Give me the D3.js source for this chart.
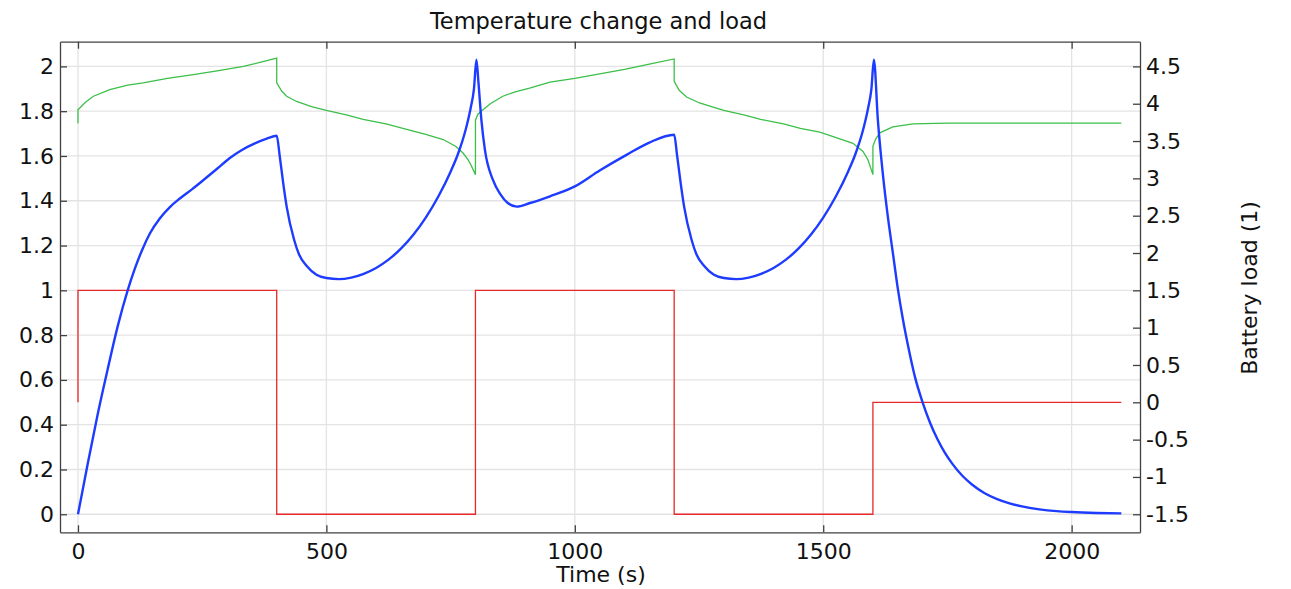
<!DOCTYPE html>
<html>
<head>
<meta charset="utf-8">
<script src="https://cdn.jsdelivr.net/npm/d3@7"></script>
<style>
  html, body { margin: 0; padding: 0; background: #fff; }
  svg { display: block; font-family: "DejaVu Sans", sans-serif; }
</style>
</head>
<body>
<svg id="chart" width="1291" height="589"></svg>
<script>
// ---- Data ----
const chartTitle = "Temperature change and load";
const xLabel = "Time (s)";
const yRightLabel = "Battery load (1)";

const xTicks = [0, 500, 1000, 1500, 2000];
const yLeftTicks = [0, 0.2, 0.4, 0.6, 0.8, 1, 1.2, 1.4, 1.6, 1.8, 2];
const yRightTicks = [-1.5, -1, -0.5, 0, 0.5, 1, 1.5, 2, 2.5, 3, 3.5, 4, 4.5];

// Temperature change (left axis)
const tempTime = [0, 20, 40, 60, 80, 100, 115, 130, 145, 165, 185, 205, 230, 255, 280, 305, 330, 355, 380, 400,
  406, 413, 420, 435, 445, 460, 480, 500, 525, 550, 575, 600, 625, 650, 675, 700, 725, 750, 765, 780, 790, 797, 802,
  806, 812, 819, 835, 850, 865, 883, 910, 950, 1000, 1050, 1104, 1150, 1200,
  1206, 1213, 1220, 1235, 1245, 1260, 1280, 1300, 1325, 1350, 1375, 1400, 1425, 1450, 1475, 1500, 1525, 1550, 1565, 1580, 1590, 1597, 1602,
  1610, 1620, 1630, 1640, 1650, 1660, 1670, 1685, 1700, 1715, 1730, 1745, 1760, 1780, 1800, 1825, 1850, 1875, 1900, 1935, 1970, 2000, 2050, 2100];
const tempValue = [0, 0.23, 0.45, 0.65, 0.84, 1.0, 1.10, 1.185, 1.255, 1.322, 1.372, 1.41, 1.452, 1.497, 1.543, 1.59, 1.627, 1.655, 1.677, 1.69,
  1.60, 1.48, 1.374, 1.226, 1.16, 1.11, 1.07, 1.055, 1.05, 1.057, 1.074, 1.10, 1.137, 1.186, 1.248, 1.325, 1.418, 1.53, 1.61, 1.715, 1.81, 1.90, 2.03,
  1.93, 1.76, 1.628, 1.494, 1.43, 1.39, 1.374, 1.39, 1.42, 1.464, 1.535, 1.605, 1.66, 1.695,
  1.60, 1.48, 1.374, 1.226, 1.16, 1.11, 1.07, 1.055, 1.05, 1.057, 1.074, 1.10, 1.137, 1.186, 1.248, 1.325, 1.418, 1.53, 1.61, 1.715, 1.81, 1.90, 2.03,
  1.76, 1.52, 1.33, 1.17, 1.01, 0.875, 0.76, 0.61, 0.50, 0.409, 0.335, 0.274, 0.225, 0.172, 0.132, 0.094, 0.068, 0.049, 0.035, 0.022, 0.014, 0.010, 0.006, 0.004];

// Green series (right axis)
const greenTime = [0, 0, 15, 31, 64, 100, 131, 180, 232, 280, 333, 370, 400,
  400, 410, 420, 440, 470, 500, 540, 574, 620, 654, 700, 735, 760, 775, 785, 791, 800,
  800, 805, 815, 830, 855, 880, 909, 950, 1000, 1050, 1100, 1150, 1200,
  1200, 1210, 1225, 1251, 1280, 1300, 1340, 1374, 1420, 1454, 1493, 1520, 1560, 1580, 1590, 1600,
  1600, 1605, 1614, 1640, 1681, 1750, 2100];
const greenValue = [3.74, 3.92, 4.02, 4.10, 4.19, 4.25, 4.28, 4.34, 4.39, 4.44, 4.50, 4.56, 4.61,
  4.28, 4.17, 4.10, 4.03, 3.96, 3.91, 3.85, 3.79, 3.73, 3.67, 3.59, 3.52, 3.43, 3.34, 3.25, 3.18, 3.05,
  3.78, 3.86, 3.92, 4.00, 4.10, 4.16, 4.21, 4.29, 4.34, 4.40, 4.46, 4.53, 4.60,
  4.30, 4.18, 4.09, 4.01, 3.95, 3.91, 3.85, 3.79, 3.73, 3.67, 3.62, 3.56, 3.47, 3.36, 3.25, 3.05,
  3.43, 3.52, 3.61, 3.69, 3.73, 3.74, 3.74];

// Battery load (right axis)
const loadTime = [0, 0, 400, 400, 800, 800, 1200, 1200, 1600, 1600, 2100];
const loadValue = [0, 1.5, 1.5, -1.5, -1.5, 1.5, 1.5, -1.5, -1.5, 0, 0];

// ---- Layout ----
const svg = d3.select("#chart");
const pLeft = 60, pRight = 1140, pTop = 41.7, pBottom = 532.3;
const fontSize = 22;

const x = d3.scaleLinear().domain([-36.2, 2137.6]).range([pLeft, pRight]);
const yL = d3.scaleLinear().domain([-0.0805, 2.1103]).range([pBottom, pTop]);
const yR = d3.scaleLinear().domain([3 * -0.0805 - 1.5, 3 * 2.1103 - 1.5]).range([pBottom, pTop]);

// grid
const grid = svg.append("g").attr("stroke", "#e3e3e3").attr("stroke-width", 1.3);
grid.selectAll("line.h").data(yLeftTicks).join("line")
  .attr("x1", pLeft).attr("x2", pRight)
  .attr("y1", d => yL(d)).attr("y2", d => yL(d));
grid.selectAll("line.v").data(xTicks).join("line")
  .attr("y1", pTop).attr("y2", pBottom)
  .attr("x1", d => x(d)).attr("x2", d => x(d));

// clip
svg.append("clipPath").attr("id", "clip").append("rect")
  .attr("x", pLeft).attr("y", pTop).attr("width", pRight - pLeft).attr("height", pBottom - pTop);

const plot = svg.append("g").attr("clip-path", "url(#clip)");

const zip = (a, b) => a.map((t, i) => [t, b[i]]);

plot.append("path")
  .datum(zip(loadTime, loadValue))
  .attr("fill", "none").attr("stroke", "#e8282a").attr("stroke-width", 1.3)
  .attr("d", d3.line().x(d => x(d[0])).y(d => yR(d[1])));

plot.append("path")
  .datum(zip(greenTime, greenValue))
  .attr("fill", "none").attr("stroke", "#3cbf48").attr("stroke-width", 1.3)
  .attr("d", d3.line().x(d => x(d[0])).y(d => yR(d[1])));

plot.append("path")
  .datum(zip(tempTime, tempValue))
  .attr("fill", "none").attr("stroke", "#1e3cff").attr("stroke-width", 2.4)
  .attr("stroke-linejoin", "round")
  .attr("d", d3.line().x(d => x(d[0])).y(d => yL(d[1])).curve(d3.curveMonotoneX));

// axes
const fmt = d => String(d);
const axisColor = "#404040";

function styleAxis(g) {
  g.select(".domain").attr("stroke", axisColor).attr("stroke-width", 1.3);
  g.selectAll(".tick line").attr("stroke", axisColor).attr("stroke-width", 1.3);
  g.selectAll(".tick text").attr("fill", "#111").attr("font-size", fontSize)
    .attr("font-family", "DejaVu Sans, sans-serif");
}

svg.append("g").attr("transform", `translate(0,${pBottom})`)
  .call(d3.axisBottom(x).tickValues(xTicks).tickFormat(fmt).tickSizeInner(-7).tickSizeOuter(0).tickPadding(11))
  .call(styleAxis);

svg.append("g").attr("transform", `translate(0,${pTop})`)
  .call(d3.axisTop(x).tickValues(xTicks).tickFormat("").tickSizeInner(-7).tickSizeOuter(0))
  .call(styleAxis);

svg.append("g").attr("transform", `translate(${pLeft},0)`)
  .call(d3.axisLeft(yL).tickValues(yLeftTicks).tickFormat(fmt).tickSizeInner(-7).tickSizeOuter(0).tickPadding(6))
  .call(styleAxis);

svg.append("g").attr("transform", `translate(${pRight},0)`)
  .call(d3.axisRight(yR).tickValues(yRightTicks).tickFormat(fmt).tickSizeInner(-7).tickSizeOuter(0).tickPadding(6))
  .call(styleAxis);

// texts
svg.append("text").attr("x", 598.5).attr("y", 28.5).attr("text-anchor", "middle")
  .attr("font-size", 22.5).attr("fill", "#111").text(chartTitle);

svg.append("text").attr("x", 601).attr("y", 582).attr("text-anchor", "middle")
  .attr("font-size", fontSize).attr("fill", "#111").text(xLabel);

svg.append("text").attr("transform", "translate(1257,288) rotate(-90)").attr("text-anchor", "middle")
  .attr("font-size", fontSize).attr("fill", "#111").text(yRightLabel);
</script>
</body>
</html>
